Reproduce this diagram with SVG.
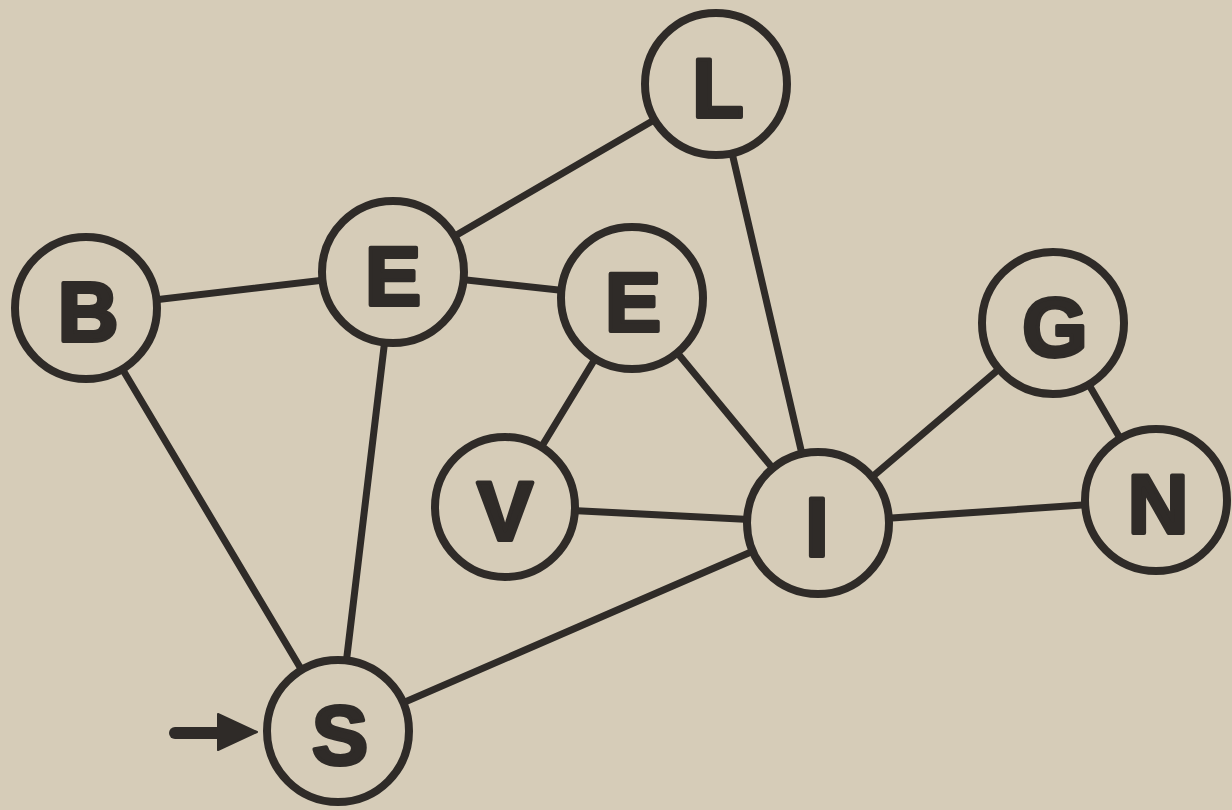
<svg xmlns="http://www.w3.org/2000/svg" width="1232" height="810" viewBox="0 0 1232 810">
<defs>
<style>
.edge{stroke:#2f2b28;stroke-width:7;stroke-linecap:round;fill:none}
.node circle{fill:#d6ccb8;stroke:#2f2b28;stroke-width:8}
.node text{font-family:"Liberation Sans",Arial,sans-serif;font-weight:bold;font-size:84px;fill:#2f2b28;stroke:#2f2b28;stroke-width:4;stroke-linejoin:round;text-anchor:middle;dominant-baseline:central}
</style>
</defs>
<rect width="1232" height="810" fill="#d6ccb8"/>
<g id="connectors">
<line class="edge" x1="86" y1="308" x2="393" y2="272"/>
<line class="edge" x1="86" y1="308" x2="338" y2="731"/>
<line class="edge" x1="393" y1="272" x2="716" y2="84"/>
<line class="edge" x1="393" y1="272" x2="632" y2="298"/>
<line class="edge" x1="393" y1="272" x2="338" y2="731"/>
<line class="edge" x1="632" y1="298" x2="505" y2="507"/>
<line class="edge" x1="632" y1="298" x2="818" y2="523"/>
<line class="edge" x1="716" y1="84" x2="818" y2="523"/>
<line class="edge" x1="505" y1="507" x2="818" y2="523"/>
<line class="edge" x1="818" y1="523" x2="1053" y2="323"/>
<line class="edge" x1="818" y1="523" x2="1156" y2="500"/>
<line class="edge" x1="1053" y1="323" x2="1156" y2="500"/>
<line class="edge" x1="818" y1="523" x2="338" y2="731"/>
<g id="start-arrow">
<line x1="175" y1="733" x2="224" y2="733" stroke="#2f2b28" stroke-width="12" stroke-linecap="round"/>
<polygon points="218,714 257,732 218,750" fill="#2f2b28" stroke="#2f2b28" stroke-width="2" stroke-linejoin="round"/>
</g>
</g>
<g id="node-L" class="node"><circle cx="716" cy="84" r="71"/><text x="718" y="88">L</text></g>
<g id="node-B" class="node"><circle cx="86" cy="308" r="71"/><text x="88" y="312">B</text></g>
<g id="node-E1" class="node"><circle cx="393" cy="272" r="71"/><text x="393" y="276">E</text></g>
<g id="node-E2" class="node"><circle cx="632" cy="298" r="71"/><text x="633" y="302">E</text></g>
<g id="node-G" class="node"><circle cx="1053" cy="323" r="71"/><text x="1055" y="327">G</text></g>
<g id="node-V" class="node"><circle cx="505" cy="507" r="70"/><text x="505" y="511">V</text></g>
<g id="node-I" class="node"><circle cx="818" cy="523" r="71"/><text x="817" y="527">I</text></g>
<g id="node-N" class="node"><circle cx="1156" cy="500" r="71"/><text x="1158" y="504">N</text></g>
<g id="node-S" class="node"><circle cx="338" cy="731" r="71"/><text x="340" y="735">S</text></g>
</svg>
